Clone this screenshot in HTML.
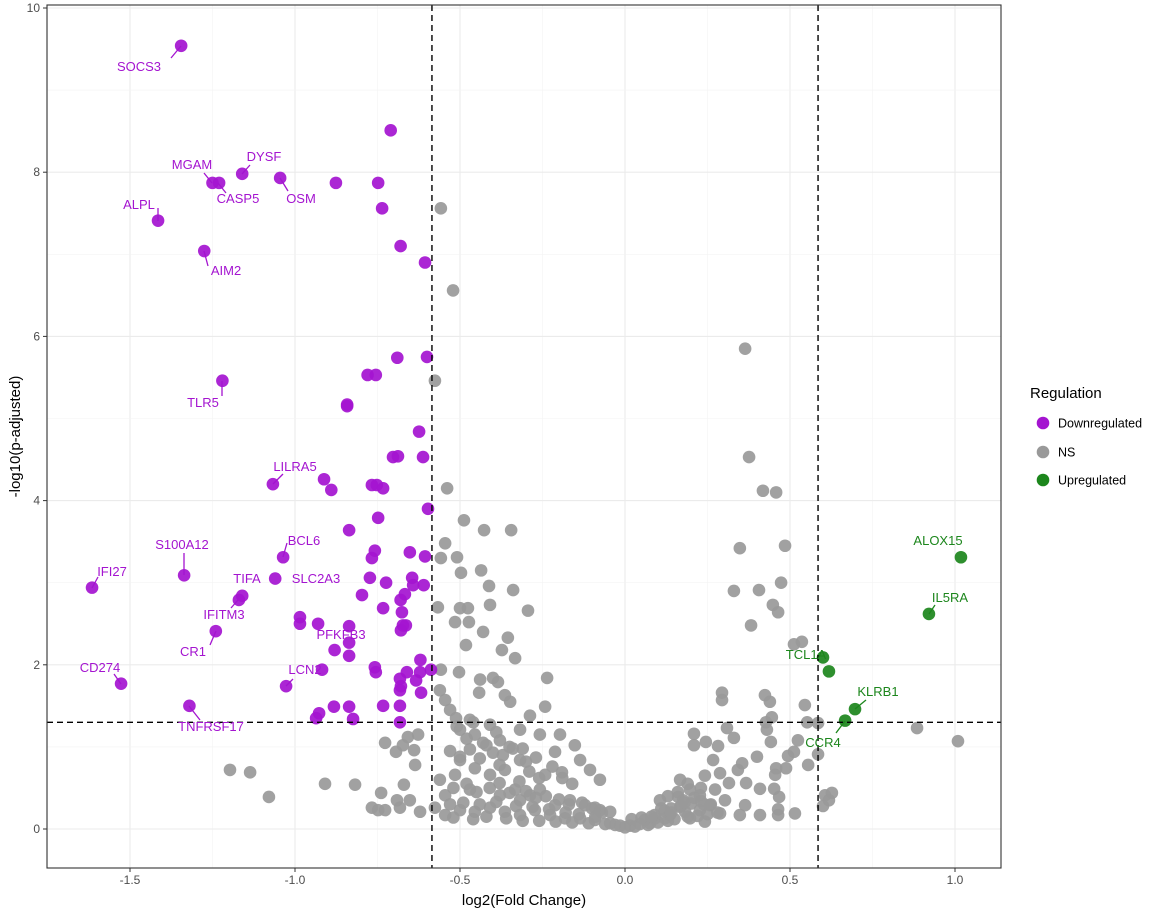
<!DOCTYPE html>
<html><head><meta charset="utf-8"><style>
html,body{margin:0;padding:0;background:#fff;}
svg{display:block;font-family:"Liberation Sans",Arial,sans-serif;}
</style></head><body>
<svg id="chart" width="1169" height="915"></svg>
<script>
// data arrays
const downX=[-1.345,-1.16,-1.25,-1.23,-1.045,-1.415,-1.275,-1.22,-1.067,-1.036,-1.336,-1.615,-1.16,-1.17,-1.06,-1.24,-0.88,-1.027,-1.527,-1.32,
-0.876,-0.748,-0.71,-0.736,-0.68,-0.606,-0.69,-0.78,-0.755,-0.6,-0.842,-0.842,-0.624,-0.912,-0.89,-0.767,-0.752,-0.733,-0.703,-0.688,-0.612,-0.597,-0.836,-0.748,-0.758,-0.767,-0.652,-0.606,-0.61,-0.645,-0.642,-0.724,-0.773,-0.797,-0.733,-0.68,-0.667,-0.676,-0.673,-0.664,-0.679,-0.985,-0.985,-0.93,-0.836,-0.836,-0.836,-0.918,-0.758,-0.755,-0.661,-0.621,-0.588,-0.682,-0.679,-0.633,-0.618,-0.682,-0.733,-0.836,-0.882,-0.927,-0.936,-0.824,-0.682,-0.682,-0.62];
const downY=[9.54,7.98,7.87,7.87,7.93,7.41,7.04,5.46,4.20,3.31,3.09,2.94,2.84,2.79,3.05,2.41,2.18,1.74,1.77,1.50,
7.87,7.87,8.51,7.56,7.10,6.9,5.74,5.53,5.53,5.75,5.17,5.15,4.84,4.26,4.13,4.19,4.19,4.15,4.53,4.54,4.53,3.9,3.64,3.79,3.39,3.3,3.37,3.32,2.97,3.06,2.97,3.0,3.06,2.85,2.69,2.79,2.86,2.64,2.48,2.48,2.42,2.58,2.5,2.5,2.47,2.27,2.11,1.94,1.97,1.91,1.91,1.91,1.94,1.83,1.74,1.81,1.66,1.69,1.5,1.49,1.49,1.41,1.35,1.34,1.5,1.3,2.06];
const upX=[1.018,0.921,0.6,0.618,0.697,0.667];
const upY=[3.31,2.62,2.09,1.92,1.46,1.32];
const nsX=[0.364,0.376,0.418,0.458,0.348,0.485,0.33,0.406,0.473,0.448,0.382,0.464,0.536,0.885,1.009,0.512,0.545,0.552,0.585,0.585,0.555,0.606,0.627,0.618,0.6,0.524,0.512,0.488,0.455,0.467,
0.294,0.294,0.424,0.439,0.445,0.427,0.43,0.309,0.209,0.209,0.245,0.282,0.33,0.267,0.355,0.342,0.4,0.442,0.494,0.458,0.452,0.409,0.367,0.315,0.273,0.197,0.161,0.106,0.167,0.227,0.288,0.348,0.409,0.464,0.515,0.464,0.242,0.06,0.091,0.136,0.182,0.015,0.045,0.076,0.121,0.197,0.258,0.303,0.364,0.176,0.227,0.167,0.242,0.288,
-0.558,-0.521,-0.576,-0.539,-0.488,-0.427,-0.345,-0.545,-0.509,-0.558,-0.497,-0.436,-0.412,-0.339,-0.567,-0.5,-0.476,-0.409,-0.294,-0.515,-0.473,-0.43,-0.482,-0.373,-0.355,-0.333,-0.558,-0.503,-0.439,-0.4,-0.385,-0.236,-0.442,-0.364,-0.348,-0.242,-0.288,-0.561,-0.545,-0.53,-0.512,-0.5,-0.47,-0.455,-0.409,-0.379,-0.318,-0.258,-0.212,-0.197,-0.152,-0.136,-0.106,-0.076,-0.191,-0.242,-0.318,-0.364,-0.409,-0.455,-0.5,-0.515,-0.561,-0.545,-0.576,-0.545,-0.5,-0.455,-0.409,-0.364,-0.318,-0.273,-0.227,-0.182,-0.136,-0.091,-0.045,-0.015,-0.212,-0.167,-0.121,-0.076,-0.288,-0.333,-0.379,-0.47,-0.318,-0.258,-0.045,-0.091,
-0.727,-0.694,-0.673,-0.658,-0.639,-0.627,-0.636,-0.67,-0.691,-0.727,-0.767,-0.818,-0.739,-0.909,-1.079,-1.136,-1.197,-0.748,-0.682,-0.621,-0.652,
-0.53,-0.52,-0.49,-0.46,-0.44,-0.42,-0.39,-0.36,-0.33,-0.31,-0.28,-0.26,-0.23,-0.21,-0.18,-0.16,-0.14,-0.11,-0.09,-0.06,-0.03,0.0,0.03,0.07,0.1,0.13,0.15,0.19,0.22,0.25,0.28,
-0.52,-0.48,-0.45,-0.41,-0.38,-0.35,-0.3,-0.27,-0.24,-0.2,-0.17,-0.13,-0.1,-0.07,0.02,0.05,0.09,0.12,0.14,0.17,0.2,0.23,0.26,
-0.53,-0.5,-0.47,-0.44,-0.4,-0.37,-0.34,-0.3,-0.27,-0.22,-0.19,-0.16,-0.48,-0.43,-0.39,-0.35,-0.31,-0.29,-0.26,-0.51,-0.46,-0.42,-0.38,-0.32,
0.11,0.13,0.16,0.18,0.21,0.24,0.14,0.19,0.23,0.08];
const nsY=[5.85,4.53,4.12,4.1,3.42,3.45,2.9,2.91,3.0,2.73,2.48,2.64,2.28,1.23,1.07,2.25,1.51,1.3,1.29,0.91,0.78,0.41,0.44,0.35,0.28,1.08,0.94,0.74,0.66,0.39,
1.66,1.57,1.63,1.55,1.36,1.3,1.21,1.23,1.16,1.02,1.06,1.01,1.11,0.84,0.8,0.72,0.88,1.06,0.89,0.74,0.49,0.49,0.56,0.56,0.48,0.48,0.39,0.35,0.27,0.23,0.19,0.17,0.17,0.17,0.19,0.24,0.09,0.11,0.13,0.17,0.21,0.04,0.06,0.07,0.13,0.13,0.29,0.35,0.29,0.35,0.41,0.6,0.65,0.68,
7.56,6.56,5.46,4.15,3.76,3.64,3.64,3.48,3.31,3.3,3.12,3.15,2.96,2.91,2.7,2.69,2.69,2.73,2.66,2.52,2.52,2.4,2.24,2.18,2.33,2.08,1.94,1.91,1.82,1.84,1.79,1.84,1.66,1.63,1.55,1.49,1.38,1.69,1.57,1.45,1.35,1.21,1.33,1.15,1.27,1.08,1.21,1.15,0.94,1.15,1.02,0.84,0.72,0.6,0.69,0.66,0.84,0.72,0.66,0.74,0.84,0.66,0.6,0.41,0.26,0.17,0.23,0.21,0.26,0.21,0.17,0.23,0.17,0.13,0.13,0.11,0.07,0.04,0.29,0.35,0.29,0.23,0.41,0.48,0.41,0.48,0.35,0.48,0.21,0.26,
1.05,0.94,1.02,1.12,0.96,1.15,0.78,0.54,0.35,0.23,0.26,0.54,0.44,0.55,0.39,0.69,0.72,0.23,0.26,0.21,0.35,
0.3,0.14,0.32,0.12,0.3,0.15,0.33,0.13,0.28,0.1,0.27,0.1,0.24,0.09,0.2,0.08,0.18,0.07,0.15,0.06,0.05,0.02,0.03,0.05,0.08,0.1,0.12,0.15,0.16,0.18,0.2,
0.5,0.55,0.45,0.5,0.56,0.44,0.46,0.38,0.4,0.36,0.3,0.32,0.25,0.2,0.12,0.14,0.17,0.22,0.25,0.28,0.31,0.34,0.3,
0.95,0.88,0.97,0.86,0.93,0.9,0.98,0.82,0.87,0.76,0.62,0.55,1.1,1.05,1.18,1.0,0.98,0.7,0.62,1.25,1.3,1.02,0.78,0.58,
0.25,0.4,0.45,0.32,0.38,0.3,0.2,0.55,0.5,0.15];
const xTicks=[-1.5,-1.0,-0.5,0.0,0.5,1.0];
const xTickLabels=["-1.5","-1.0","-0.5","0.0","0.5","1.0"];
const yTicks=[0,2,4,6,8,10];
const yTickLabels=["0","2","4","6","8","10"];
const fcCut=[-0.585,0.585];
const pCut=1.3;

const NS='http://www.w3.org/2000/svg';
const svg=document.getElementById('chart');
const L=47,R=1001,T=5,B=868;
function sx(v){return 625+v*330;}
function sy(v){return 829-v*82.1;}
function mk(tag,attrs,parent){const e=document.createElementNS(NS,tag);for(const k in attrs)e.setAttribute(k,attrs[k]);(parent||svg).appendChild(e);return e;}

const grid=mk('g',{});


for(let i=0;i<xTicks.length;i++){
  mk('line',{x1:sx(xTicks[i]),x2:sx(xTicks[i]),y1:T,y2:B,stroke:'#ebebeb','stroke-width':1.1},grid);
  if(i<xTicks.length-1){const m=(xTicks[i]+xTicks[i+1])/2;mk('line',{x1:sx(m),x2:sx(m),y1:T,y2:B,stroke:'#f3f3f3','stroke-width':0.6},grid);}
}
const mlo=xTicks[0]-0.25;mk('line',{x1:sx(mlo),x2:sx(mlo),y1:T,y2:B,stroke:'#f3f3f3','stroke-width':0.6},grid);
for(let i=0;i<yTicks.length;i++){
  mk('line',{x1:L,x2:R,y1:sy(yTicks[i]),y2:sy(yTicks[i]),stroke:'#ebebeb','stroke-width':1.1},grid);
  if(i<yTicks.length-1){const m=(yTicks[i]+yTicks[i+1])/2;mk('line',{x1:L,x2:R,y1:sy(m),y2:sy(m),stroke:'#f3f3f3','stroke-width':0.6},grid);}
}

function drawPts(xs,ys,col,name){
  const g=mk('g',{});
  
  
  for(let i=0;i<xs.length;i++){
    const c=mk('circle',{cx:sx(xs[i]),cy:sy(ys[i]),r:6.3,fill:col,'fill-opacity':0.92},g);
    
    
  }
}
drawPts(nsX,nsY,'#999999','ns-series');
drawPts(downX,downY,'#a414d0','downregulated-series');
drawPts(upX,upY,'#1c861c','upregulated-series');

for(const c of fcCut){
  const l=mk('line',{x1:sx(c),x2:sx(c),y1:T,y2:B,stroke:'#000','stroke-width':1.4,'stroke-dasharray':'6,4'});
  
  
}
const hl=mk('line',{x1:L,x2:R,y1:sy(pCut),y2:sy(pCut),stroke:'#000','stroke-width':1.4,'stroke-dasharray':'6,4'});



const P='#a414d0',G='#1c861c';
const labels=[
["SOCS3",139,71,181,46,171,58,P],["MGAM",192,169,212,183,204,173,P],["DYSF",264,161,242,174,250,165,P],
["CASP5",238,203,218,183,226,193,P],["OSM",301,203,280,178,288,191,P],["ALPL",139,209,158,221,158,208,P],
["AIM2",226,275,204,251,208,266,P],["TLR5",203,407,222,381,222,396,P],["LILRA5",295,471,273,484,283,474,P],
["BCL6",304,545,283,557,287,543,P],["S100A12",182,549,184,575,184,553,P],["IFI27",112,576,92,588,98,577,P],
["TIFA",247,583,0,0,0,0,P],["SLC2A3",316,583,0,0,0,0,P],["IFITM3",224,619,238,600,231,608,P],
["CR1",193,656,216,631,210,645,P],["PFKFB3",341,639,0,0,0,0,P],["LCN2",305,674,286,686,293,679,P],
["CD274",100,672,121,684,114,674,P],["TNFRSF17",211,731,189,706,200,720,P],
["ALOX15",938,545,0,0,0,0,G],["IL5RA",950,602,929,614,935,605,G],["TCL1A",806,659,0,0,0,0,G],
["KLRB1",878,696,855,709,866,700,G],["CCR4",823,747,845,721,836,733,G]];
for(const lb of labels){
  if(lb[3]){const s=mk('line',{x1:lb[3],y1:lb[4],x2:lb[5],y2:lb[6],stroke:lb[7],'stroke-width':1.3});
    
    }
  const t=mk('text',{x:lb[1],y:lb[2],'text-anchor':'middle','font-size':13,fill:lb[7]});
  t.textContent=lb[0];
  
  
}

const br=mk('rect',{x:L,y:T,width:R-L,height:B-T,fill:'none',stroke:'#333','stroke-width':1.1});



for(let i=0;i<xTicks.length;i++){
  mk('line',{x1:sx(xTicks[i]),x2:sx(xTicks[i]),y1:B,y2:B+4,stroke:'#333'});
  const t=mk('text',{x:sx(xTicks[i]),y:B+16,'text-anchor':'middle','font-size':12,fill:'#4d4d4d'});
  t.textContent=xTickLabels[i];
  
  
}
for(let i=0;i<yTicks.length;i++){
  mk('line',{x1:L-4,x2:L,y1:sy(yTicks[i]),y2:sy(yTicks[i]),stroke:'#333'});
  const t=mk('text',{x:L-7,y:sy(yTicks[i])+4,'text-anchor':'end','font-size':12,fill:'#4d4d4d'});
  t.textContent=yTickLabels[i];
  
  
}
const xt=mk('text',{x:(L+R)/2,y:905,'text-anchor':'middle','font-size':15,fill:'#000'});
xt.textContent='log2(Fold Change)';


const yt=mk('text',{x:0,y:0,'text-anchor':'middle','font-size':15,fill:'#000',transform:'translate(20,'+((T+B)/2)+') rotate(-90)'});
yt.textContent='-log10(p-adjusted)';



const lg=mk('g',{});


const lt=mk('text',{x:1030,y:398,'font-size':15,fill:'#000'},lg);
lt.textContent='Regulation';


const le=[["Downregulated",'#a414d0',423],["NS",'#999999',452],["Upregulated",'#1c861c',480]];
for(const e of le){
  const c=mk('circle',{cx:1043,cy:e[2],r:6.3,fill:e[1]},lg);
  
  
  const t=mk('text',{x:1058,y:e[2]+4.5,'font-size':12.5,fill:'#000'},lg);
  t.textContent=e[0];
  
  
}
</script>
</body></html>
